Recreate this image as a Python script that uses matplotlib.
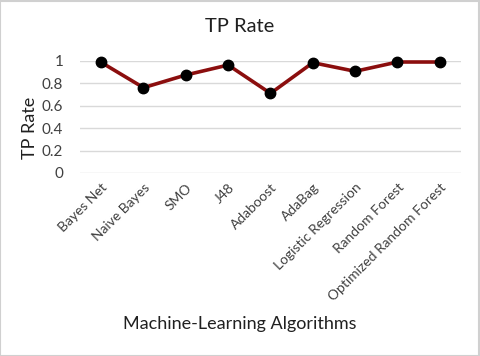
import matplotlib
matplotlib.use("Agg")
import matplotlib.pyplot as plt
from matplotlib.patches import Rectangle

categories = ["Bayes Net", "Naive Bayes", "SMO", "J48", "Adaboost", "AdaBag",
              "Logistic Regression", "Random Forest", "Optimized Random Forest"]
tp_rate = [0.988, 0.762, 0.875, 0.964, 0.711, 0.985, 0.908, 0.991, 0.991]
yticks = [0, 0.2, 0.4, 0.6, 0.8, 1]
ytick_labels = ["0", "0.2", "0.4", "0.6", "0.8", "1"]

plt.rcParams['font.family'] = ['Lato', 'DejaVu Sans']

fig = plt.figure(figsize=(4.8, 3.56), dpi=100)
ax = fig.add_axes([80/480, 1-173/356, (461-80)/480, (173-61)/356])

x = list(range(len(categories)))
ax.plot(x, tp_rate, color="#8B0E0E", lw=2.6, zorder=3, clip_on=False)
ax.plot(x, tp_rate, 'o', color="black", ms=7.5, zorder=4, clip_on=False)

ax.set_xlim(-0.5, len(categories)-0.5)
ax.set_ylim(0, 1)
ax.set_yticks(yticks)
ax.set_yticklabels(ytick_labels, fontsize=11, color="#404040")
ax.set_xticks(x)
ax.set_xticklabels(categories, rotation=45, ha="right", rotation_mode="anchor",
                   fontsize=10, color="#404040")
ax.tick_params(length=0, pad=6)
ax.tick_params(axis='y', pad=12)
ax.grid(axis='y', color="#d9d9d9", lw=1)
ax.set_axisbelow(True)
for s in ax.spines.values():
    s.set_visible(False)

fig.text(30/480, 1-128/356, "TP Rate", rotation=90, ha="center", va="center",
         fontsize=13, color="#202020")
fig.text(0.5, 1-27/356, "TP Rate", ha="center", va="center", fontsize=14.5, color="#202020")
fig.text(0.5, 1-324/356, "Machine-Learning Algorithms", ha="center", va="center",
         fontsize=13, color="#202020")

fig.patches.append(Rectangle((0.001, 0.001), 0.997, 0.997, transform=fig.transFigure,
                             fill=False, edgecolor="#d0d0d0", lw=1.5))

fig.savefig("out.png", dpi=100)
